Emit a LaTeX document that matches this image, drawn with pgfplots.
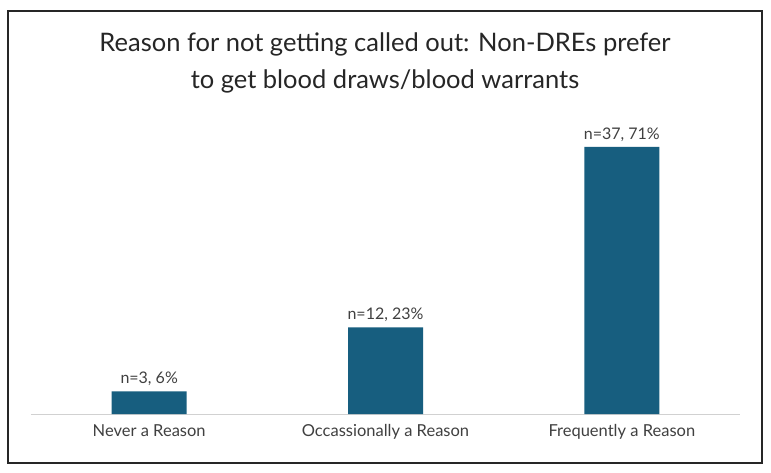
\documentclass[border=0pt]{standalone}
\usepackage{fontspec}
\setmainfont{Lato}
\usepackage{pgfplots}
\usepackage{pgfplotstable}
\pgfplotsset{compat=1.18}
\definecolor{barblue}{HTML}{175E7F}
\definecolor{txt}{HTML}{404040}
\definecolor{ttl}{HTML}{262626}

% category, share in percent, count
\pgfplotstableread{
x y n
0 6 3
1 23 12
2 71 37
}\reasons

\begin{document}
\begin{tikzpicture}
\useasboundingbox (0pt,0pt) rectangle (771pt,-472pt);
\fill[white] (0pt,0pt) rectangle (771pt,-472pt);
\draw[line width=1.5pt, black!85] (8pt,-11pt) rectangle (762pt,-463pt);
\node[align=center, font=\fontsize{25.5}{37}\selectfont, text=ttl] at (385pt,-63pt)
  {Reason for not getting called out: Non-DREs prefer\\to get blood draws/blood warrants};
\begin{axis}[
  at={(31pt,-414pt)}, anchor=south west,
  scale only axis, width=709pt, height=301pt,
  xmin=-0.5, xmax=2.5, ymin=0, ymax=80,
  hide y axis,
  axis x line*=bottom,
  x axis line style={draw=black!18, line width=1pt},
  xtick={0,1,2},
  xticklabels={Never a Reason, Occassionally a Reason, Frequently a Reason},
  major tick length=0pt,
  xticklabel style={font=\fontsize{16.5}{18}\selectfont, text=txt, yshift=-7pt},
  /pgf/number format/assume math mode=true,
  ybar, bar width=75pt, bar shift=0pt,
  clip=false,
]
\addplot[fill=barblue, draw=none,
  visualization depends on={\thisrow{n}\as\ncount},
  nodes near coords={n=\pgfmathprintnumber{\ncount}, \pgfmathprintnumber{\pgfplotspointmeta}\%},
  every node near coord/.append style={font=\fontsize{16}{18}\selectfont, text=txt, yshift=2pt},
] table[x=x, y=y] {\reasons};
\end{axis}
\end{tikzpicture}
\end{document}
